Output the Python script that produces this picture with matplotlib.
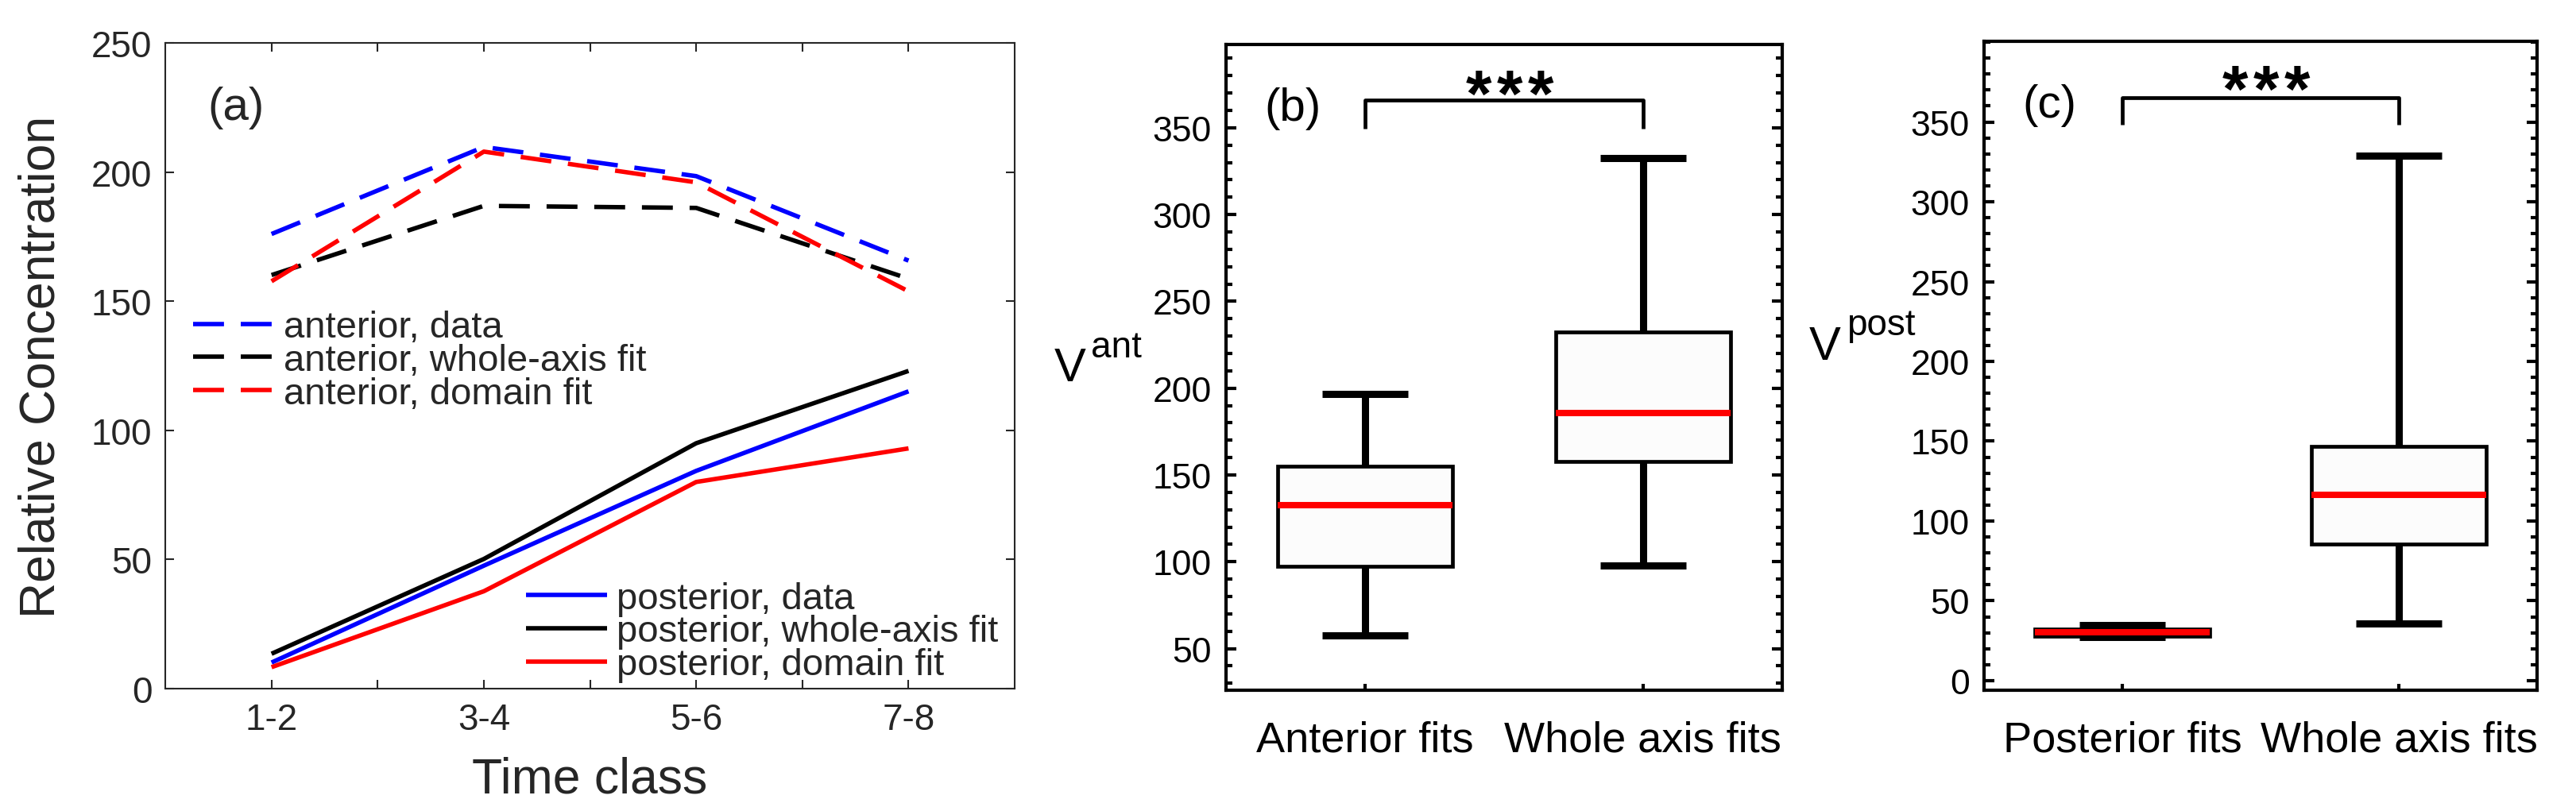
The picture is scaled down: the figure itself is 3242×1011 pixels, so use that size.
import numpy as np
import matplotlib.pyplot as plt
from matplotlib.ticker import MultipleLocator

plt.rcParams['font.family'] = ['Liberation Sans', 'DejaVu Sans']

# panel (a): relative concentration per time class
time_classes = ['1-2', '3-4', '5-6', '7-8']
ant_data = [176.0, 209.7, 198.4, 165.7]
ant_whole = [160.1, 186.9, 186.1, 158.7]
ant_domain = [157.7, 207.9, 196.0, 153.8]
post_data = [10.1, 47.6, 84.3, 115.1]
post_whole = [13.5, 50.2, 95.0, 123.0]
post_domain = [8.3, 37.7, 80.0, 93.0]

# panel (b): V ant
b_labels = ['Anterior fits', 'Whole axis fits']
b_lower = [57.4, 97.9]
b_q1 = [97.6, 157.8]
b_median = [132.7, 185.6]
b_q3 = [155.1, 232.5]
b_upper = [196.5, 332.6]

# panel (c): V post
c_labels = ['Posterior fits', 'Whole axis fits']
c_lower = [27.3, 35.8]
c_q1 = [28.0, 85.4]
c_median = [30.3, 116.4]
c_q3 = [32.5, 146.9]
c_upper = [34.7, 328.8]

gray = '#262626'

fig = plt.figure(figsize=(32.42, 10.12), dpi=100)

# ---- (a)
ax = fig.add_axes([0.0642, 0.1423, 0.3297, 0.8034])
x = np.arange(1, len(time_classes) + 1)
dash = (7.0, 3.8)
kw = dict(lw=4.0, solid_capstyle='butt', dash_capstyle='butt')
h1, = ax.plot(x, ant_data, color='b', ls='--', dashes=dash, **kw)
h2, = ax.plot(x, ant_whole, color='k', ls='--', dashes=dash, **kw)
h3, = ax.plot(x, ant_domain, color='r', ls='--', dashes=dash, **kw)
h4, = ax.plot(x, post_data, color='b', **kw)
h5, = ax.plot(x, post_whole, color='k', **kw)
h6, = ax.plot(x, post_domain, color='r', **kw)

legkw = dict(frameon=False, fontsize=34, handlelength=2.15, handletextpad=0.25,
             labelspacing=-0.05, borderpad=0, borderaxespad=0, loc='center left')
leg1 = ax.legend([h1, h2, h3], ['anterior, data', 'anterior, whole-axis fit', 'anterior, domain fit'],
                 bbox_to_anchor=(0.033, 0.508), **legkw)
for t in leg1.get_texts():
    t.set_color(gray)
ax.add_artist(leg1)
leg2 = ax.legend([h4, h5, h6], ['posterior, data', 'posterior, whole-axis fit', 'posterior, domain fit'],
                 bbox_to_anchor=(0.425, 0.088), **legkw)
for t in leg2.get_texts():
    t.set_color(gray)

ax.set_xlim(0.5, 4.5)
ax.set_ylim(0, 250)
ax.set_xticks(x)
ax.set_xticklabels(time_classes)
ax.set_xticks([1.5, 2.5, 3.5], minor=True)
ax.set_yticks(np.arange(0, 251, 50))
ax.tick_params(which='both', direction='in', top=True, right=True, length=8, width=1.5,
               color=gray, labelcolor=gray, labelsize=33, pad=12)
for s in ax.spines.values():
    s.set_linewidth(1.5)
    s.set_color(gray)
ax.set_xlabel('Time class', fontsize=45, color=gray, labelpad=17)
ax.set_ylabel('Relative Concentration', fontsize=45, color=gray, labelpad=24)
ax.text(0.05, 0.934, '(a)', transform=ax.transAxes, fontsize=42, va='top', color=gray)


def box_panel(ax, labels, lower, q1, med, q3, upper, ylim, majors, sup, vpos, suppos, tag,
              bracket):
    stats = []
    for i in range(len(labels)):
        stats.append(dict(whislo=lower[i], q1=q1[i], med=med[i], q3=q3[i],
                          whishi=upper[i], label=labels[i]))
    ax.bxp(stats, positions=[1, 2], widths=0.63, capwidths=0.31, patch_artist=True,
           showfliers=False,
           boxprops=dict(facecolor='#fcfcfc', edgecolor='k', linewidth=3.4),
           medianprops=dict(color='r', linewidth=5.8, solid_capstyle='butt', zorder=5),
           whiskerprops=dict(color='k', linewidth=6.5, solid_capstyle='butt'),
           capprops=dict(color='k', linewidth=6.5, solid_capstyle='butt'))
    ax.set_xlim(0.5, 2.5)
    ax.set_ylim(*ylim)
    ax.set_yticks(majors)
    ax.yaxis.set_minor_locator(MultipleLocator(10))
    ax.tick_params(axis='y', which='major', direction='in', left=True, right=True,
                   length=9.4, width=3, labelsize=32, pad=13)
    ax.tick_params(axis='y', which='minor', direction='in', left=True, right=True,
                   length=5.8, width=3)
    ax.tick_params(axis='x', direction='in', length=6, width=3, labelsize=39, pad=27)
    for s in ax.spines.values():
        s.set_linewidth(3)
    ax.text(vpos[0], vpos[1], 'V', transform=ax.transAxes, fontsize=43, ha='left', va='baseline')
    ax.text(suppos[0], suppos[1], sup, transform=ax.transAxes, fontsize=33, ha='left', va='baseline')
    ax.text(0.07, 0.935, tag, transform=ax.transAxes, fontsize=42, va='top')
    lo, hi = bracket
    ax.plot([1, 1, 2, 2], [lo, hi, hi, lo], color='k', lw=3.4, solid_capstyle='butt')
    for dx in (-0.112, 0.0, 0.112):
        ax.text(1.52 + dx, 357, '*', ha='center', va='baseline', fontsize=60, fontweight='bold')


ax_b = fig.add_axes([0.4759, 0.1403, 0.2159, 0.8034])
box_panel(ax_b, b_labels, b_lower, b_q1, b_median, b_q3, b_upper, (26, 398),
          np.arange(50, 351, 50), 'ant', (-0.309, 0.48), (-0.243, 0.517), '(b)', (349.4, 366))

ax_c = fig.add_axes([0.7702, 0.1403, 0.2147, 0.8073])
box_panel(ax_c, c_labels, c_lower, c_q1, c_median, c_q3, c_upper, (-6, 400.5),
          np.arange(0, 351, 50), 'post', (-0.316, 0.51), (-0.249, 0.548), '(c)', (348.4, 365))

fig.savefig('out.png', dpi=100)
